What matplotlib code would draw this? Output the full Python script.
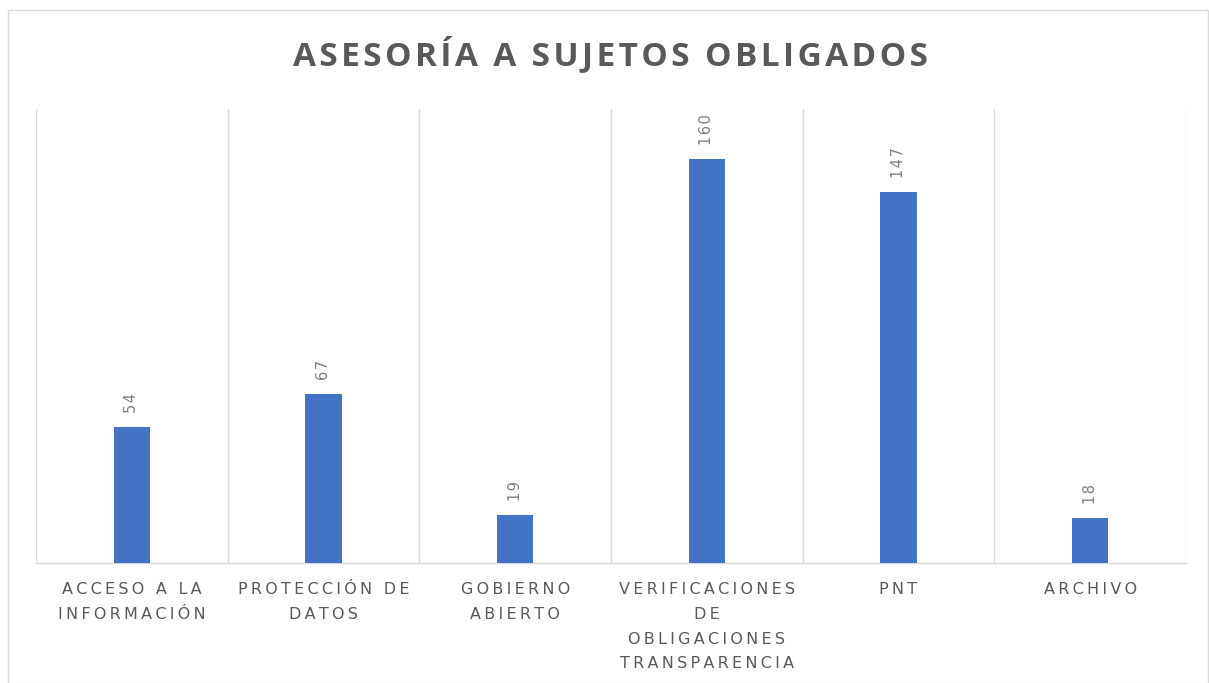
import matplotlib.pyplot as plt
from matplotlib.patches import Rectangle

categorias = ['ACCESO A LA\nINFORMACIÓN', 'PROTECCIÓN DE\nDATOS', 'GOBIERNO\nABIERTO',
              'VERIFICACIONES\nDE\nOBLIGACIONES\nTRANSPARENCIA', 'PNT', 'ARCHIVO']
valores = [54, 67, 19, 160, 147, 18]
titulo = 'ASESORÍA A SUJETOS OBLIGADOS'

AZUL = '#4472C4'
GRIS = '#595959'
LINEA = '#D9D9D9'


def espaciar(s, sep):
    # separacion entre letras, como en el grafico de Excel
    return '\n'.join(sep.join(linea) for linea in s.split('\n'))


fig = plt.figure(figsize=(12.09, 6.83), dpi=100)
ax = fig.add_axes([36 / 1209, 1 - 563 / 683, (1186 - 36) / 1209, (563 - 108.5) / 683])

x = range(len(valores))
ax.bar(x, valores, width=0.19, color=AZUL, zorder=3)

# etiquetas de datos, giradas
for i, v in zip(x, valores):
    ax.annotate(espaciar(str(v), '\u200a'), (i, v), xytext=(0, 10), textcoords='offset points',
                rotation=90, ha='center', va='bottom', fontsize=10.5, color='#7F7F7F',
                family=['DejaVu Sans'])

ax.set_xlim(-0.5, len(valores) - 0.5)
ax.set_ylim(0, 180)

# lineas verticales entre categorias
for b in [i - 0.5 for i in range(len(valores) + 1)]:
    ax.axvline(b, color=LINEA, lw=1, zorder=1)

for s in ['left', 'right', 'top']:
    ax.spines[s].set_visible(False)
ax.spines['bottom'].set_color(LINEA)
ax.spines['bottom'].set_linewidth(1)

ax.set_yticks([])
ax.set_xticks(list(x))
ax.set_xticklabels([espaciar(c, '\u2009') for c in categorias], fontsize=11.5,
                   color=GRIS, linespacing=1.8, family=['DejaVu Sans'])
ax.tick_params(axis='x', length=0, pad=14)

fig.text(0.505, 1 - 55 / 683, espaciar(titulo, '\u200a'), ha='center', va='center',
         fontsize=24, fontweight='bold', color=GRIS, family=['Open Sans', 'DejaVu Sans'])

# borde del grafico
fig.patches.append(Rectangle((8 / 1209, 0), 1200 / 1209, 1 - 10 / 683,
                             transform=fig.transFigure, fill=False,
                             edgecolor=LINEA, lw=1))

fig.savefig('out.png', dpi=100)
